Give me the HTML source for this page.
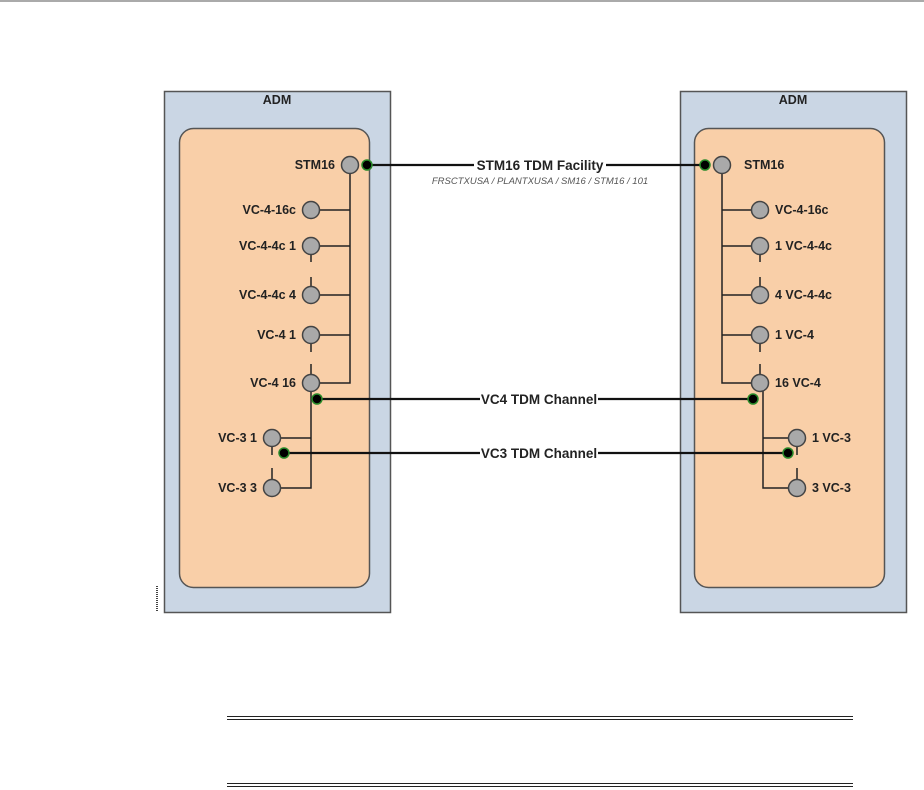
<!DOCTYPE html>
<html><head><meta charset="utf-8"><style>
html,body{margin:0;padding:0;background:#fff;}
svg{display:block;}
text{font-family:"Liberation Sans",Arial,sans-serif;font-weight:bold;font-size:12.5px;fill:#222;}
.big{font-size:13.5px;}
</style></head><body>
<svg width="924" height="790" viewBox="0 0 924 790" xmlns="http://www.w3.org/2000/svg">
<line x1="0" y1="1" x2="924" y2="1" stroke="#555" stroke-width="1"/>
<rect x="164.5" y="91.5" width="226" height="521" fill="#cad6e4" stroke="#555" stroke-width="1.5"/>
<rect x="179.5" y="128.5" width="190" height="459" rx="14" fill="#f9cfa8" stroke="#555" stroke-width="1.5"/>
<text x="277" y="104" text-anchor="middle">ADM</text>
<rect x="680.5" y="91.5" width="226" height="521" fill="#cad6e4" stroke="#555" stroke-width="1.5"/>
<rect x="694.5" y="128.5" width="190" height="459" rx="14" fill="#f9cfa8" stroke="#555" stroke-width="1.5"/>
<text x="793" y="104" text-anchor="middle">ADM</text>
<line x1="157" y1="586" x2="157" y2="612" stroke="#444" stroke-width="2" stroke-dasharray="1,1"/>
<g stroke="#222" stroke-width="1.5" fill="none">
<polyline points="350,165 350,383 311,383"/>
<line x1="311" y1="210" x2="350" y2="210"/>
<line x1="311" y1="246" x2="350" y2="246"/>
<line x1="311" y1="295" x2="350" y2="295"/>
<line x1="311" y1="335" x2="350" y2="335"/>
<polyline points="311,383 311,488 272,488"/>
<line x1="272" y1="438" x2="311" y2="438"/>
<line x1="311" y1="254" x2="311" y2="262"/><line x1="311" y1="277" x2="311" y2="287"/>
<line x1="311" y1="343" x2="311" y2="352"/><line x1="311" y1="364" x2="311" y2="375"/>
<line x1="272" y1="446" x2="272" y2="455"/><line x1="272" y1="468" x2="272" y2="480"/>
<polyline points="722,165 722,383 760,383"/>
<line x1="722" y1="210" x2="760" y2="210"/>
<line x1="722" y1="246" x2="760" y2="246"/>
<line x1="722" y1="295" x2="760" y2="295"/>
<line x1="722" y1="335" x2="760" y2="335"/>
<polyline points="763,383 763,488 797,488"/>
<line x1="763" y1="438" x2="797" y2="438"/>
<line x1="760" y1="254" x2="760" y2="262"/><line x1="760" y1="277" x2="760" y2="287"/>
<line x1="760" y1="343" x2="760" y2="352"/><line x1="760" y1="364" x2="760" y2="375"/>
<line x1="797" y1="446" x2="797" y2="455"/><line x1="797" y1="468" x2="797" y2="480"/>
</g>
<g stroke="#111" stroke-width="2.2">
<line x1="367" y1="165" x2="474" y2="165"/><line x1="606" y1="165" x2="705" y2="165"/>
<line x1="317" y1="399" x2="480" y2="399"/><line x1="598" y1="399" x2="753" y2="399"/>
<line x1="284" y1="453" x2="480" y2="453"/><line x1="598" y1="453" x2="788" y2="453"/>
</g>
<text class="big" x="540" y="170" text-anchor="middle">STM16 TDM Facility</text>
<text x="540" y="184" text-anchor="middle" style="font-weight:normal;font-style:italic;font-size:9.5px;fill:#555">FRSCTXUSA / PLANTXUSA / SM16 / STM16 / 101</text>
<text class="big" x="539" y="404" text-anchor="middle">VC4 TDM Channel</text>
<text class="big" x="539" y="458" text-anchor="middle">VC3 TDM Channel</text>
<g fill="#a9a9a9" stroke="#444" stroke-width="1.5">
<circle cx="350" cy="165" r="8.5"/><circle cx="311" cy="210" r="8.5"/><circle cx="311" cy="246" r="8.5"/>
<circle cx="311" cy="295" r="8.5"/><circle cx="311" cy="335" r="8.5"/><circle cx="311" cy="383" r="8.5"/>
<circle cx="272" cy="438" r="8.5"/><circle cx="272" cy="488" r="8.5"/>
<circle cx="722" cy="165" r="8.5"/><circle cx="760" cy="210" r="8.5"/><circle cx="760" cy="246" r="8.5"/>
<circle cx="760" cy="295" r="8.5"/><circle cx="760" cy="335" r="8.5"/><circle cx="760" cy="383" r="8.5"/>
<circle cx="797" cy="438" r="8.5"/><circle cx="797" cy="488" r="8.5"/>
</g>
<g fill="#000" stroke="#2a8a2a" stroke-width="1.5">
<circle cx="367" cy="165" r="5"/><circle cx="317" cy="399" r="5"/><circle cx="284" cy="453" r="5"/>
<circle cx="705" cy="165" r="5"/><circle cx="753" cy="399" r="5"/><circle cx="788" cy="453" r="5"/>
</g>
<g text-anchor="end">
<text x="335" y="169">STM16</text><text x="296" y="214">VC-4-16c</text><text x="296" y="250">VC-4-4c 1</text>
<text x="296" y="299">VC-4-4c 4</text><text x="296" y="339">VC-4 1</text><text x="296" y="387">VC-4 16</text>
<text x="257" y="442">VC-3 1</text><text x="257" y="492">VC-3 3</text>
</g>
<text x="744" y="169">STM16</text><text x="775" y="214">VC-4-16c</text><text x="775" y="250">1 VC-4-4c</text>
<text x="775" y="299">4 VC-4-4c</text><text x="775" y="339">1 VC-4</text><text x="775" y="387">16 VC-4</text>
<text x="812" y="442">1 VC-3</text><text x="812" y="492">3 VC-3</text>
<g stroke="#222" stroke-width="1">
<line x1="227" y1="716.5" x2="853" y2="716.5"/><line x1="227" y1="719.5" x2="853" y2="719.5"/>
<line x1="227" y1="783.5" x2="853" y2="783.5"/><line x1="227" y1="786.5" x2="853" y2="786.5"/>
</g>
</svg>
</body></html>
